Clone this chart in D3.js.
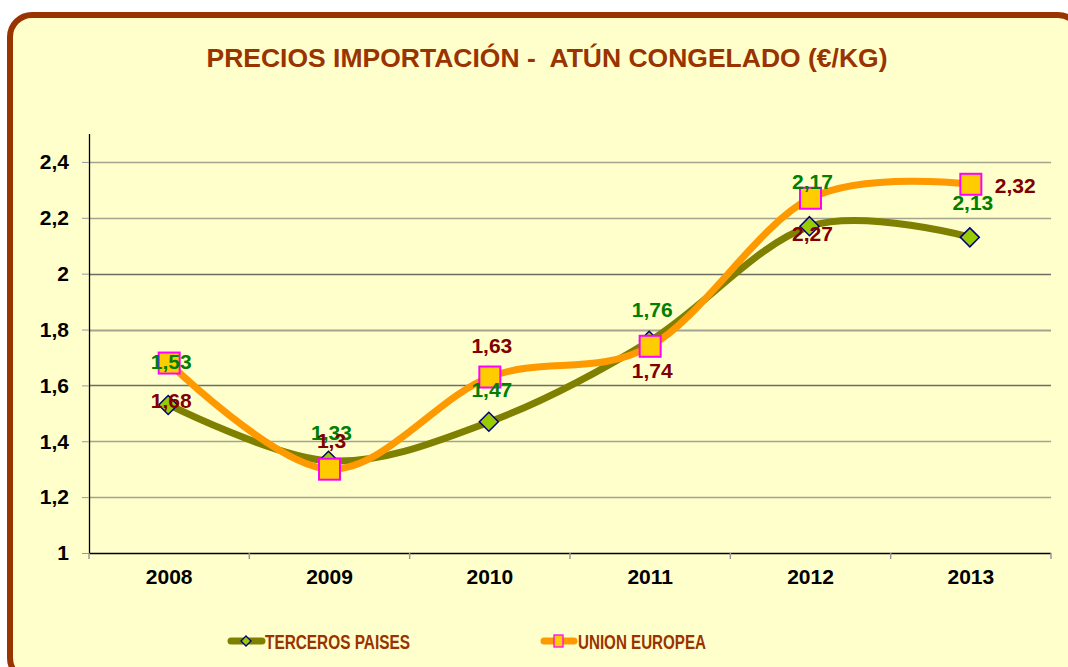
<!DOCTYPE html>
<html>
<head>
<meta charset="utf-8">
<script src="https://cdn.jsdelivr.net/npm/d3@7"></script>
<style>
  body { margin: 0; background: #ffffff; }
  text { font-family: "Liberation Sans", Arial, sans-serif; font-weight: bold; }
</style>
</head>
<body>
<svg id="chart"></svg>
<script>
// chart data
const years = ['2008', '2009', '2010', '2011', '2012', '2013'];
const terceros = [1.53, 1.33, 1.47, 1.76, 2.17, 2.13];
const unionEuropea = [1.68, 1.30, 1.63, 1.74, 2.27, 2.32];
const yTicks = [1, 1.2, 1.4, 1.6, 1.8, 2, 2.2, 2.4];
const seriesNames = ['TERCEROS PAISES', 'UNION EUROPEA'];

// where each data label sits relative to its point (pixels)
const tercerosLabelDy = [-44, -28, -32, -31, -45, -35];
const ueLabelDy = [37, -29, -32, 24, 35, 1];

const W = 1068, H = 667;
const svg = d3.select('#chart')
  .attr('width', W)
  .attr('height', H);

// frame
svg.append('rect')
  .attr('x', 10).attr('y', 15)
  .attr('width', 1070).attr('height', 665)
  .attr('rx', 22).attr('ry', 22)
  .attr('fill', '#FFFFCC')
  .attr('stroke', '#993300')
  .attr('stroke-width', 6);

// title (keeps the double space after the dash)
svg.append('text')
  .attr('x', 547).attr('y', 67)
  .attr('text-anchor', 'middle')
  .attr('font-size', '26px')
  .attr('fill', '#993300')
  .attr('textLength', 681)
  .attr('lengthAdjust', 'spacingAndGlyphs')
  .style('white-space', 'pre')
  .text('PRECIOS IMPORTACIÓN -  ATÚN CONGELADO (€/KG)');

const plotLeft = 89, plotRight = 1051, plotTop = 134, plotBottom = 553;

const x = d3.scaleBand().domain(years).range([plotLeft, plotRight]);
const y = d3.scaleLinear().domain([1, 2.5]).range([plotBottom, plotTop]);

const locale = d3.formatLocale({ decimal: ',', thousands: '.', grouping: [3], currency: ['', '€'] });
const fmt = v => locale.format('~g')(v);

// gridlines
svg.append('g')
  .selectAll('line')
  .data(yTicks.filter(d => d > 1))
  .enter()
  .append('line')
  .attr('x1', plotLeft).attr('x2', plotRight)
  .attr('y1', d => Math.round(y(d)) + 0.5)
  .attr('y2', d => Math.round(y(d)) + 0.5)
  .attr('stroke', d => (d === 2 || d === 1.6) ? '#6e6e60' : '#a3a390')
  .attr('stroke-width', d => d === 1.8 ? 2 : 1.3);

// y axis
const yAxis = svg.append('g')
  .attr('transform', `translate(${plotLeft},0)`)
  .call(d3.axisLeft(y).tickValues(yTicks).tickFormat(fmt).tickSize(7).tickPadding(13));
yAxis.select('.domain').attr('stroke', '#000').attr('stroke-width', 1.3).attr('d', `M0.5,${plotTop}V${plotBottom}`);
yAxis.selectAll('.tick line').attr('stroke', '#999');
yAxis.selectAll('.tick text')
  .attr('font-size', '21px')
  .attr('font-family', '"Liberation Sans", Arial, sans-serif')
  .attr('font-weight', 'bold')
  .attr('fill', '#000');

// x axis
const xAxis = svg.append('g')
  .attr('transform', `translate(0,${plotBottom})`)
  .call(d3.axisBottom(x).tickSize(0).tickPadding(16));
xAxis.select('.domain').attr('stroke', '#000').attr('stroke-width', 1.5).attr('d', `M${plotLeft},0.5H${plotRight}`);
xAxis.selectAll('.tick text')
  .attr('font-size', '21px')
  .attr('font-family', '"Liberation Sans", Arial, sans-serif')
  .attr('font-weight', 'bold')
  .attr('fill', '#000');
// small ticks between categories
xAxis.selectAll('.sep')
  .data(d3.range(years.length + 1))
  .enter()
  .append('line')
  .attr('x1', i => plotLeft + i * x.step())
  .attr('x2', i => plotLeft + i * x.step())
  .attr('y1', 0).attr('y2', 6)
  .attr('stroke', '#999')
  .attr('stroke-width', 1.5);

const cx = i => x(years[i]) + x.bandwidth() / 2;
const line = d3.line()
  .x((d, i) => cx(i))
  .y(d => y(d))
  .curve(d3.curveCardinal.tension(0));

svg.append('path')
  .datum(terceros)
  .attr('d', line)
  .attr('fill', 'none')
  .attr('stroke', '#808000')
  .attr('stroke-width', 7)
  .attr('stroke-linecap', 'round');

svg.append('path')
  .datum(unionEuropea)
  .attr('d', line)
  .attr('fill', 'none')
  .attr('stroke', '#FF9900')
  .attr('stroke-width', 7)
  .attr('stroke-linecap', 'round');

const diamond = s => `M0,${-s}L${s},0L0,${s}L${-s},0Z`;

// markers
svg.append('g')
  .selectAll('path')
  .data(terceros)
  .enter()
  .append('path')
  .attr('transform', (d, i) => `translate(${cx(i) - 1},${y(d)})`)
  .attr('d', diamond(9.5))
  .attr('fill', '#99CC00')
  .attr('stroke', '#000080')
  .attr('stroke-width', 1.5);

svg.append('g')
  .selectAll('rect')
  .data(unionEuropea)
  .enter()
  .append('rect')
  .attr('x', (d, i) => cx(i) - 10.5)
  .attr('y', d => y(d) - 10.5)
  .attr('width', 21).attr('height', 21)
  .attr('fill', '#FFCC00')
  .attr('stroke', '#FF00FF')
  .attr('stroke-width', 2);

// data labels
svg.append('g')
  .selectAll('text')
  .data(terceros)
  .enter()
  .append('text')
  .attr('x', (d, i) => cx(i) + 2)
  .attr('y', (d, i) => y(d) + tercerosLabelDy[i])
  .attr('dy', '0.36em')
  .attr('text-anchor', 'middle')
  .attr('font-size', '21px')
  .attr('fill', '#008000')
  .text(fmt);

svg.append('g')
  .selectAll('text')
  .data(unionEuropea)
  .enter()
  .append('text')
  .attr('x', (d, i) => i === years.length - 1 ? cx(i) + 24 : cx(i) + 2)
  .attr('y', (d, i) => y(d) + ueLabelDy[i])
  .attr('dy', '0.36em')
  .attr('text-anchor', (d, i) => i === years.length - 1 ? 'start' : 'middle')
  .attr('font-size', '21px')
  .attr('fill', '#800000')
  .text(fmt);

// legend
const legend = svg.append('g');
const legY = 641;

legend.append('line')
  .attr('x1', 231).attr('x2', 262)
  .attr('y1', legY).attr('y2', legY)
  .attr('stroke', '#808000').attr('stroke-width', 7).attr('stroke-linecap', 'round');
legend.append('path')
  .attr('transform', `translate(246,${legY})`)
  .attr('d', diamond(5))
  .attr('fill', '#99CC00')
  .attr('stroke', '#000080')
  .attr('stroke-width', 1.3);
legend.append('text')
  .attr('x', 265).attr('y', legY + 8)
  .attr('font-size', '20px')
  .attr('fill', '#993300')
  .attr('textLength', 145)
  .attr('lengthAdjust', 'spacingAndGlyphs')
  .text(seriesNames[0]);

legend.append('line')
  .attr('x1', 544).attr('x2', 574)
  .attr('y1', legY).attr('y2', legY)
  .attr('stroke', '#FF9900').attr('stroke-width', 7).attr('stroke-linecap', 'round');
legend.append('rect')
  .attr('x', 554).attr('y', legY - 6)
  .attr('width', 9).attr('height', 12)
  .attr('fill', '#FFCC00')
  .attr('stroke', '#FF00FF')
  .attr('stroke-width', 1.3);
legend.append('text')
  .attr('x', 578).attr('y', legY + 8)
  .attr('font-size', '20px')
  .attr('fill', '#993300')
  .attr('textLength', 128)
  .attr('lengthAdjust', 'spacingAndGlyphs')
  .text(seriesNames[1]);
</script>
</body>
</html>
